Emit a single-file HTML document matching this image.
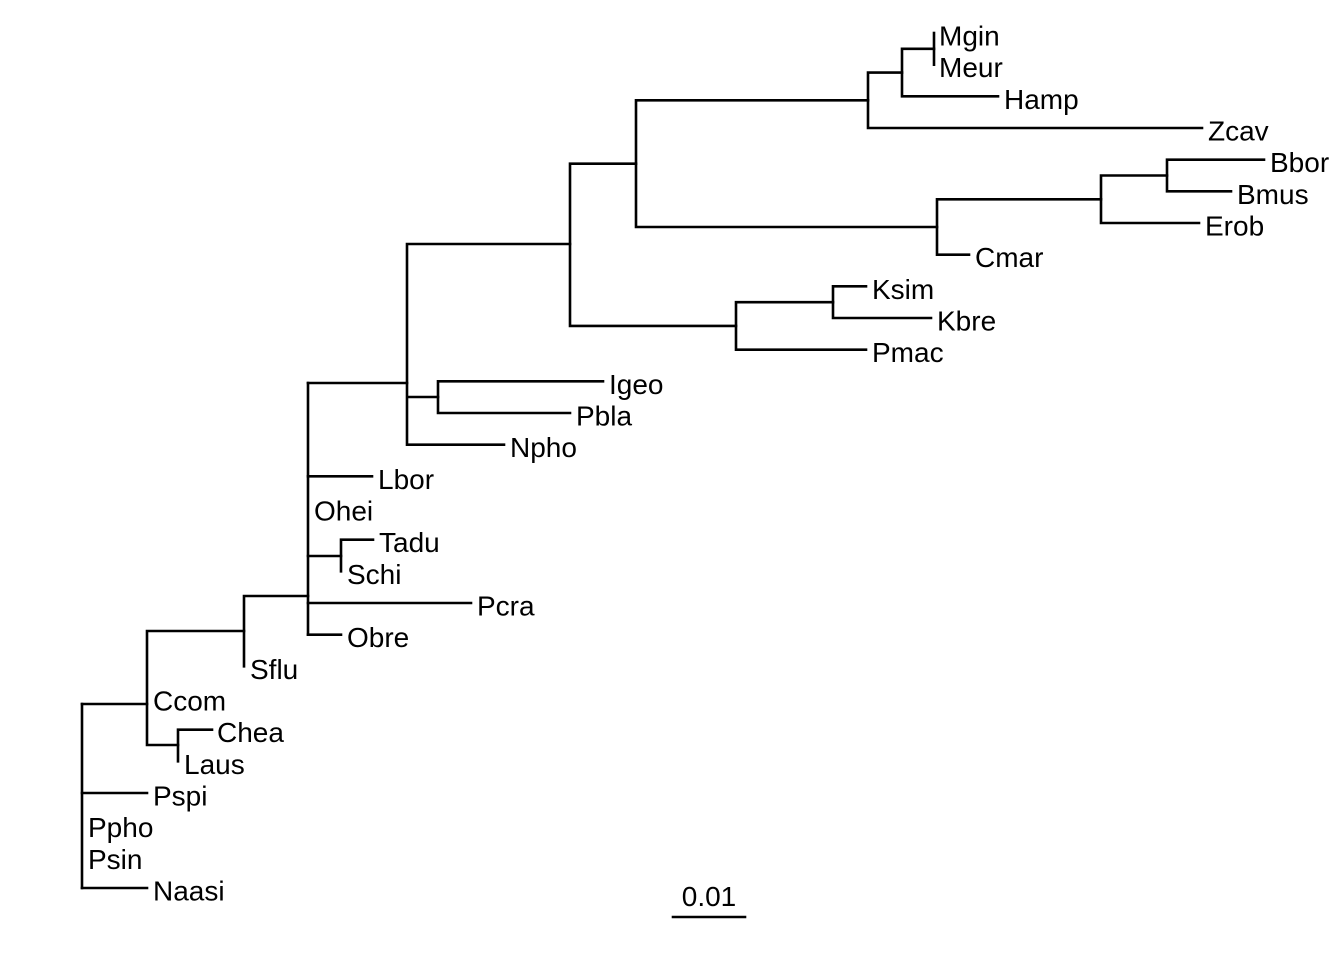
<!DOCTYPE html>
<html><head><meta charset="utf-8"><style>
html,body{margin:0;padding:0;background:#fff;}
svg{display:block}
text{font-family:"Liberation Sans",Arial,sans-serif;font-size:28px;fill:#000}
</style></head><body>
<svg width="1344" height="960" viewBox="0 0 1344 960" xmlns="http://www.w3.org/2000/svg">
<g stroke="#000" stroke-width="2.6" fill="none" stroke-linecap="square">
<path d="M82 704V888"/>
<path d="M82 704H147M82 793H147M82 888H147"/>
<path d="M147 631V745M147 631H244M147 745H178"/>
<path d="M178 729.7V761.3M178 729.7H212"/>
<path d="M244 596V666.3M244 596H308"/>
<path d="M308 383V634.7"/>
<path d="M308 383H407M308 476.3H372M308 556H341M308 603H471M308 634.7H341"/>
<path d="M341 539.7V571.3M341 539.7H373"/>
<path d="M407 244V444.7M407 397H438M407 444.7H504M407 244H570"/>
<path d="M438 381.3V413M438 381.3H603M438 413H570"/>
<path d="M570 163.7V325.9M570 163.7H636M570 325.9H736"/>
<path d="M736 302.2V349.7M736 302.2H833M736 349.7H866"/>
<path d="M833 286.3V318M833 286.3H866M833 318H931"/>
<path d="M636 100.3V227M636 100.3H868M636 227H937"/>
<path d="M868 72.6V128M868 72.6H902M868 128H1202"/>
<path d="M902 48.8V96.3M902 48.8H934M902 96.3H998"/>
<path d="M934 33V64.7"/>
<path d="M937 199.3V254.7M937 199.3H1101M937 254.7H969"/>
<path d="M1101 175.5V223M1101 175.5H1167M1101 223H1199"/>
<path d="M1167 159.7V191.3M1167 159.7H1264M1167 191.3H1231"/>
<path d="M673 917H745"/>
</g>
<g>
<text x="939" y="45.5">Mgin</text>
<text x="939" y="77.2">Meur</text>
<text x="1004" y="108.8">Hamp</text>
<text x="1208" y="140.5">Zcav</text>
<text x="1270" y="172.2">Bbor</text>
<text x="1237" y="203.8">Bmus</text>
<text x="1205" y="235.5">Erob</text>
<text x="975" y="267.2">Cmar</text>
<text x="872" y="298.8">Ksim</text>
<text x="937" y="330.5">Kbre</text>
<text x="872" y="362.2">Pmac</text>
<text x="609" y="393.8">Igeo</text>
<text x="576" y="425.5">Pbla</text>
<text x="510" y="457.2">Npho</text>
<text x="378" y="488.8">Lbor</text>
<text x="314" y="520.5">Ohei</text>
<text x="379" y="552.2">Tadu</text>
<text x="347" y="583.8">Schi</text>
<text x="477" y="615.5">Pcra</text>
<text x="347" y="647.2">Obre</text>
<text x="250" y="678.8">Sflu</text>
<text x="153" y="710.5">Ccom</text>
<text x="217" y="742.2">Chea</text>
<text x="184" y="773.8">Laus</text>
<text x="153" y="805.5">Pspi</text>
<text x="88" y="837.2">Ppho</text>
<text x="88" y="868.8">Psin</text>
<text x="153" y="900.5">Naasi</text>
<text x="709" y="906" text-anchor="middle">0.01</text>
</g>
</svg>
</body></html>
